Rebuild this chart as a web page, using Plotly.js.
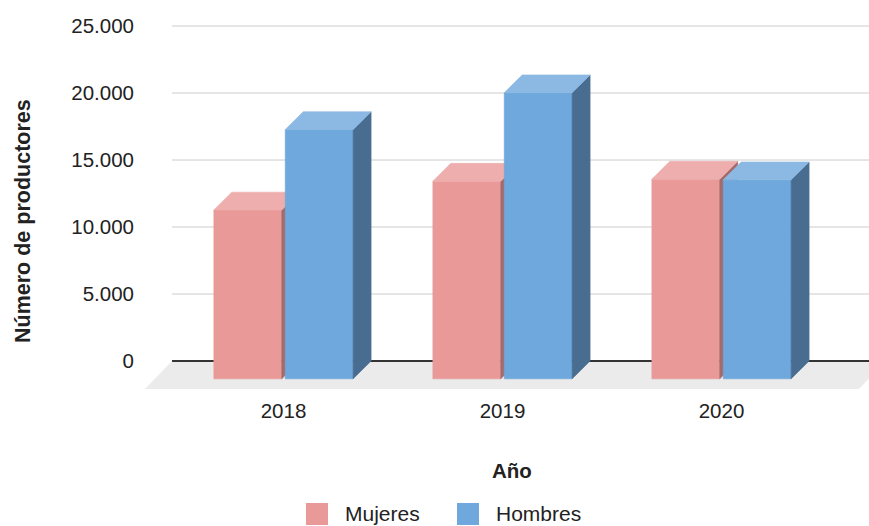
<!DOCTYPE html>
<html><head><meta charset="utf-8">
<script src="https://cdn.plot.ly/plotly-3.0.1.min.js"></script>
<style>html,body{margin:0;padding:0;background:#fff}</style>
</head><body><div id="chart" style="width:869px;height:526px"></div>
<script>
// ---- data ----
const years = ['2018', '2019', '2020'];
const seriesNames = ['Mujeres', 'Hombres'];
const mujeres = [12600, 14750, 14900];
const hombres = [18600, 21350, 14850];
const yTickVals = [0, 5000, 10000, 15000, 20000, 25000];
const yTickText = ['0', '5.000', '10.000', '15.000', '20.000', '25.000'];
const xTitle = 'Año';
const yTitle = 'Número de productores';

// ---- styles ----
const frontColors = ['#EA9999', '#6FA8DC'];
const topColors = ['#EDAEAD', '#8CB9E3'];
const sideColors = ['#A56B6A', '#486D90'];
const FONT = '"Liberation Sans", Arial, sans-serif';
const TXT = '#222222';

// ---- geometry (pseudo-3D) ----
const depthX = 0.082, depthY = 1330, barW = 0.31, offsets = [-0.163, 0.163];
const W = 869, H = 526, L = 145, R = 0, T = 20, B = 136;
const xRange = [-0.6324, 2.6735], yRange = [-2164, 25448];
function pxX(p) { return (p - L) / (W - L - R); }
function pxY(p) { return (H - B - p) / (H - B - T); }

function faces(vals, off) {
  const front = {x: [], y: []}, top = {x: [], y: []}, side = {x: [], y: []};
  vals.forEach((v, i) => {
    const x0 = i + off - barW / 2, x1 = i + off + barW / 2;
    const b = -depthY, t = v - depthY;
    front.x.push(x0, x1, x1, x0, x0, null); front.y.push(b, b, t, t, b, null);
    top.x.push(x0, x1, x1 + depthX, x0 + depthX, x0, null); top.y.push(t, t, v, v, t, null);
    side.x.push(x1, x1 + depthX, x1 + depthX, x1, x1, null); side.y.push(b, 0, v, t, b, null);
  });
  return {front, top, side};
}

const traces = [];
[mujeres, hombres].forEach((vals, s) => {
  const f = faces(vals, offsets[s]);
  [['front', frontColors[s]], ['side', sideColors[s]], ['top', topColors[s]]].forEach(([k, c]) => {
    traces.push({
      type: 'scatter', mode: 'lines', x: f[k].x, y: f[k].y,
      fill: 'toself', fillcolor: c, line: {color: c, width: 0.6},
      connectgaps: false, hoverinfo: 'skip', showlegend: false, name: seriesNames[s]
    });
  });
});

const shapes = [];
// floor
shapes.push({type: 'path', xref: 'x', yref: 'y', layer: 'below',
  path: 'M -0.509,0 L 2.75,0 L 2.627,-2090 L -0.6324,-2090 Z',
  fillcolor: '#EBEBEB', line: {width: 0}});
// gridlines
yTickVals.forEach(v => {
  shapes.push({type: 'line', xref: 'x', yref: 'y', layer: 'below',
    x0: -0.509, x1: 2.75, y0: v, y1: v,
    line: {color: v === 0 ? '#333333' : '#CCCCCC', width: v === 0 ? 2 : 1}});
});
// legend swatches
const legendX = [306, 457], legendTextX = [343, 494], legendY = 513;
const annotations = [];
seriesNames.forEach((n, s) => {
  shapes.push({type: 'rect', xref: 'paper', yref: 'paper',
    x0: pxX(legendX[s]), x1: pxX(legendX[s] + 22), y0: pxY(legendY + 12), y1: pxY(legendY - 10),
    fillcolor: frontColors[s], line: {width: 0}});
  annotations.push({xref: 'paper', yref: 'paper', x: pxX(legendTextX[s]), y: pxY(legendY),
    xanchor: 'left', yanchor: 'middle', showarrow: false, text: n,
    font: {family: FONT, size: 21, color: TXT}});
});
annotations.push({xref: 'paper', yref: 'paper', x: pxX(512), y: pxY(470),
  xanchor: 'center', yanchor: 'middle', showarrow: false, text: '<b>' + xTitle + '</b>',
  font: {family: FONT, size: 20.5, color: TXT}});
annotations.push({xref: 'paper', yref: 'paper', x: pxX(23), y: pxY(221), textangle: -90,
  xanchor: 'center', yanchor: 'middle', showarrow: false, text: '<b>' + yTitle + '</b>',
  font: {family: FONT, size: 21.5, color: TXT}});

const layout = {
  width: W, height: H, margin: {l: L, r: R, t: T, b: B},
  paper_bgcolor: '#ffffff', plot_bgcolor: '#ffffff', showlegend: false,
  font: {family: FONT, color: TXT},
  xaxis: {range: xRange, tickvals: [0, 1, 2], ticktext: years, showgrid: false, zeroline: false,
    showline: false, ticks: '', ticklabelstandoff: 6, tickfont: {size: 20.5, color: TXT, family: FONT}, fixedrange: true},
  yaxis: {range: yRange, tickvals: yTickVals, ticktext: yTickText, showgrid: false, zeroline: false,
    showline: false, ticks: '', ticklabelstandoff: 10, tickfont: {size: 20.5, color: TXT, family: FONT}, fixedrange: true},
  shapes: shapes, annotations: annotations
};
Plotly.newPlot('chart', traces, layout, {displayModeBar: false, staticPlot: true});
</script></body></html>
